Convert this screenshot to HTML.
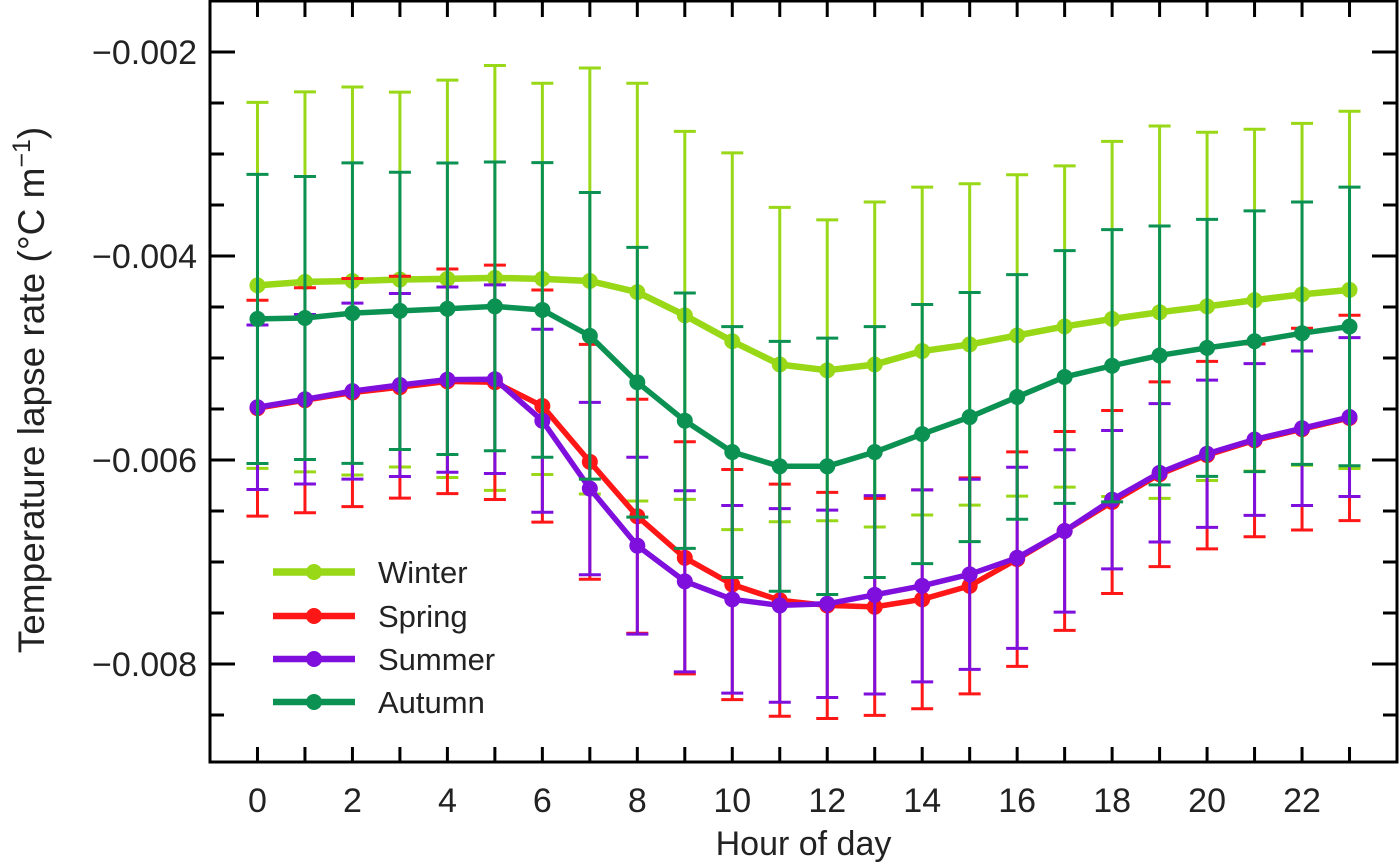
<!DOCTYPE html>
<html><head><meta charset="utf-8"><style>
body{margin:0;background:#fff;}
svg{display:block;font-family:"Liberation Sans",sans-serif;}
</style></head><body>
<svg id="chart" width="1400" height="866" viewBox="0 0 1400 866" xmlns="http://www.w3.org/2000/svg">
</svg>
<script>
const SCALE = 1e-3;
const hours = [0,1,2,3,4,5,6,7,8,9,10,11,12,13,14,15,16,17,18,19,20,21,22,23];
const winterMean = [-4.288,-4.254,-4.245,-4.231,-4.224,-4.215,-4.224,-4.245,-4.354,-4.582,-4.836,-5.064,-5.121,-5.064,-4.932,-4.867,-4.779,-4.691,-4.617,-4.551,-4.494,-4.433,-4.376,-4.332];
const winterErr = [1.794,1.863,1.902,1.838,1.948,2.083,1.918,2.088,2.048,1.804,1.847,1.541,1.475,1.593,1.607,1.575,1.575,1.575,1.741,1.825,1.707,1.676,1.676,1.751];
const springMean = [-5.492,-5.414,-5.339,-5.286,-5.229,-5.238,-5.471,-6.018,-6.552,-6.959,-7.221,-7.375,-7.426,-7.440,-7.366,-7.234,-6.972,-6.696,-6.412,-6.140,-5.952,-5.808,-5.698,-5.588];
const springErr = [1.058,1.103,1.118,1.088,1.101,1.149,1.138,1.151,1.147,1.138,1.128,1.138,1.108,1.064,1.073,1.059,1.051,0.975,0.897,0.906,0.919,0.945,0.989,1.007];
const summerMean = [-5.483,-5.405,-5.325,-5.265,-5.212,-5.208,-5.615,-6.280,-6.840,-7.190,-7.366,-7.426,-7.410,-7.322,-7.234,-7.121,-6.959,-6.696,-6.389,-6.126,-5.939,-5.799,-5.689,-5.579];
const summerErr = [0.806,0.831,0.863,0.897,0.908,0.925,0.897,0.845,0.867,0.888,0.920,0.949,0.919,0.972,0.941,0.932,0.888,0.796,0.678,0.678,0.722,0.744,0.757,0.779];
const autumnMean = [-4.617,-4.608,-4.560,-4.538,-4.517,-4.494,-4.529,-4.783,-5.238,-5.615,-5.922,-6.062,-6.062,-5.922,-5.746,-5.579,-5.382,-5.186,-5.076,-4.975,-4.901,-4.836,-4.757,-4.691];
const autumnErr = [1.417,1.387,1.473,1.359,1.429,1.416,1.444,1.405,1.322,1.252,1.230,1.225,1.257,1.230,1.270,1.221,1.199,1.239,1.335,1.269,1.260,1.278,1.286,1.366];
const yTickValues = [-0.002,-0.004,-0.006,-0.008];
const yTickLabels = ["\u22120.002","\u22120.004","\u22120.006","\u22120.008"];
const xTickLabels = ["0","2","4","6","8","10","12","14","16","18","20","22"];
const seriesNames = ["Winter","Spring","Summer","Autumn"];

const L=210, R=1397, T=1, B=762;
const xMin=-1, xMax=24, yTop=-1.5e-3, yBot=-8.961e-3;
const xs = h => L + (h - xMin)/(xMax - xMin)*(R-L);
const ys = v => T + (yTop - v)/(yTop - yBot)*(B-T);
const svg = document.getElementById('chart');
const NS = "http://www.w3.org/2000/svg";
function mk(tag, attrs, parent){
  const e = document.createElementNS(NS, tag);
  for (const k in attrs) e.setAttribute(k, attrs[k]);
  (parent||svg).appendChild(e);
  return e;
}

const colors = {Winter:"#98d817",Spring:"#ff1616",Summer:"#7f0fdc",Autumn:"#0b9152"};
const widths = {Winter:6.5,Spring:5.5,Summer:5.5,Autumn:5.5};
const dataSets = [["Winter",winterMean,winterErr],["Spring",springMean,springErr],["Summer",summerMean,summerErr],["Autumn",autumnMean,autumnErr]];

dataSets.forEach(([name, mean, err]) => {
  const g = mk('g', {});
  
  
  const c = colors[name];
  hours.forEach((h,i) => {
    const x = xs(h), y1 = ys((mean[i]+err[i])*SCALE), y2 = ys((mean[i]-err[i])*SCALE);
    const eb = mk('path', {d:`M${x},${y1}V${y2}M${x-11},${y1}H${x+11}M${x-11},${y2}H${x+11}`, stroke:c, 'stroke-width':3, fill:'none'}, g);
    
    
  });
  const pts = hours.map((h,i)=>xs(h)+','+ys(mean[i]*SCALE)).join(' ');
  const pl = mk('polyline', {points:pts, stroke:c, 'stroke-width':widths[name], fill:'none', 'stroke-linejoin':'round'}, g);
  
  
  hours.forEach((h,i) => {
    const pt = mk('circle', {cx:xs(h), cy:ys(mean[i]*SCALE), r:8, fill:c}, g);
    
    
  });
});

const frame = mk('rect', {x:L, y:T, width:R-L, height:B-T, fill:'none', stroke:'#000', 'stroke-width':3});



for (let k=0; k<=16; k++){
  const v = -0.0015 - k*0.0005;
  if (v < yBot) break;
  const y = ys(v);
  const major = Math.abs((v/0.002) - Math.round(v/0.002)) < 1e-6;
  const len = major ? 25 : 14;
  const t = mk('path', {d:`M${L},${y}H${L+len}M${R},${y}H${R-len}`, stroke:'#000', 'stroke-width':3});
  
  
}
yTickValues.forEach((v,i) => {
  const t = mk('text', {x:197, y:ys(v)+12, 'text-anchor':'end', 'font-size':34, fill:'#222'});
  t.textContent = yTickLabels[i];
  
  
});
for (let h=0; h<=23; h++){
  const x = xs(h);
  const t = mk('path', {d:`M${x},${B}V${B-15}M${x},${T}V${T+16}`, stroke:'#000', 'stroke-width':3});
  
  
}
xTickLabels.forEach(lbl => {
  const t = mk('text', {x:xs(+lbl), y:812, 'text-anchor':'middle', 'font-size':34, fill:'#222'});
  t.textContent = lbl;
  
  
});
const xt = mk('text', {x:(L+R)/2, y:855, 'text-anchor':'middle', 'font-size':34, fill:'#222'});
xt.textContent = 'Hour of day';


const yt = mk('text', {x:0, y:0, transform:'translate(44,390) rotate(-90)', 'text-anchor':'middle', 'font-size':37, fill:'#222'});
yt.innerHTML = 'Temperature lapse rate (°C m<tspan dy="-14" font-size="25">\u22121</tspan><tspan dy="14">)</tspan>';



const legendY = [572,616,659,702];
seriesNames.forEach((n,i) => {
  const g = mk('g', {});
  
  
  const c = colors[n], y = legendY[i];
  mk('line', {x1:273, x2:355, y1:y, y2:y, stroke:c, 'stroke-width':widths[n]+1}, g);
  mk('circle', {cx:314, cy:y, r:8, fill:c}, g);
  const t = mk('text', {x:378, y:y+11, 'font-size':31, fill:'#222'}, g);
  t.textContent = n;
});
</script>
</body></html>
